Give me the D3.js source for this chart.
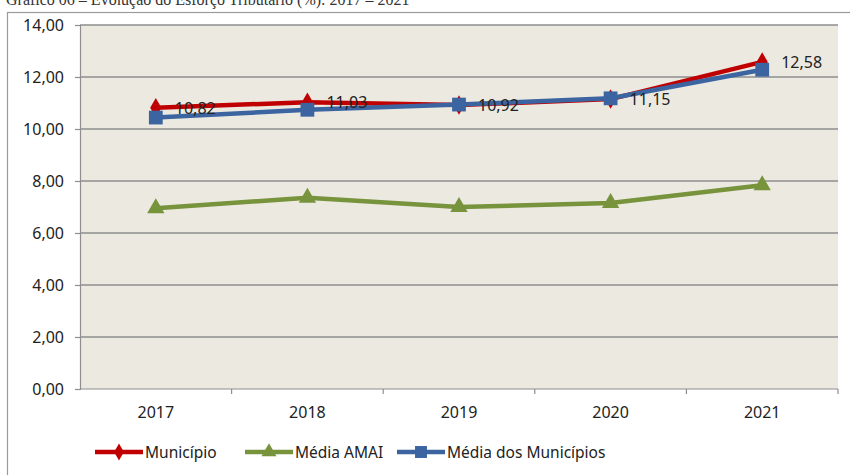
<!DOCTYPE html>
<html>
<head>
<meta charset="utf-8">
<script src="https://cdn.jsdelivr.net/npm/d3@7"></script>
<style>
  body { margin: 0; background: #fff; }
  svg { display: block; font-family: "Noto Sans", sans-serif; }
</style>
</head>
<body>
<div id="chart"></div>
<script>
const years = ["2017", "2018", "2019", "2020", "2021"];
const municipio = [10.82, 11.03, 10.92, 11.15, 12.58];
const mediaAmai = [6.95, 7.36, 7.0, 7.15, 7.84];
const mediaMunicipios = [10.44, 10.74, 10.94, 11.18, 12.28];
const yTicks = [0, 2, 4, 6, 8, 10, 12, 14];

const width = 850, height = 475;
const margin = {top: 25, right: 12, bottom: 86, left: 80};

const svg = d3.select("#chart").append("svg")
  .attr("width", width)
  .attr("height", height);

// title, mostly cut off at the top like in the source
svg.append("text")
  .attr("x", 6).attr("y", 5)
  .style("font-family", "'Liberation Serif', serif")
  .style("font-size", "16px")
  .attr("fill", "#333")
  .text("Gráfico 06 – Evolução do Esforço Tributário (%): 2017 – 2021");

// outer frame
svg.append("rect")
  .attr("x", 7.5).attr("y", 12.5)
  .attr("width", 860).attr("height", 480)
  .attr("fill", "none")
  .attr("stroke", "#9a9a9a")
  .attr("stroke-width", 1.2);

const x = d3.scaleBand()
  .domain(years)
  .range([margin.left, width - margin.right]);

const y = d3.scaleLinear()
  .domain([0, 14])
  .range([height - margin.bottom, margin.top]);

// plot background
svg.append("rect")
  .attr("x", margin.left).attr("y", margin.top)
  .attr("width", width - margin.left - margin.right)
  .attr("height", height - margin.top - margin.bottom)
  .attr("fill", "#ece9e1");

// gridlines
svg.append("g")
  .selectAll("line")
  .data(yTicks.filter(d => d > 0))
  .join("line")
  .attr("x1", margin.left).attr("x2", width - margin.right)
  .attr("y1", d => y(d)).attr("y2", d => y(d))
  .attr("stroke", "#8e8e8e")
  .attr("stroke-width", 1.3);

// y axis
const yAxis = svg.append("g")
  .attr("transform", `translate(${margin.left},0)`)
  .call(d3.axisLeft(y).tickValues(yTicks).tickSize(5).tickPadding(11)
    .tickFormat(d => d3.format(".2f")(d).replace(".", ",")));
yAxis.selectAll("line, path").attr("stroke", "#8e8e8e").attr("stroke-width", 1.2);
yAxis.selectAll("text").style("font-size", "16px").attr("fill", "#222")
  .style("font-family", "'Noto Sans', sans-serif");

// x axis (ticks between categories)
const xAxisY = y(0);
svg.append("line")
  .attr("x1", margin.left).attr("x2", width - margin.right)
  .attr("y1", xAxisY).attr("y2", xAxisY)
  .attr("stroke", "#8e8e8e").attr("stroke-width", 1.2);
svg.append("g")
  .selectAll("line")
  .data(years)
  .join("line")
  .attr("x1", d => x(d) + x.bandwidth()).attr("x2", d => x(d) + x.bandwidth())
  .attr("y1", xAxisY).attr("y2", xAxisY + 5)
  .attr("stroke", "#8e8e8e").attr("stroke-width", 1.2);
svg.append("g")
  .selectAll("text")
  .data(years)
  .join("text")
  .attr("x", d => x(d) + x.bandwidth() / 2)
  .attr("y", xAxisY + 29)
  .attr("text-anchor", "middle")
  .style("font-size", "16px")
  .attr("fill", "#222")
  .text(d => d);

const series = [
  {name: "Município", values: municipio, color: "#c00000", symbol: d3.symbolDiamond, size: 110},
  {name: "Média AMAI", values: mediaAmai, color: "#77933c", symbol: d3.symbolTriangle, size: 130},
  {name: "Média dos Municípios", values: mediaMunicipios, color: "#3b64a0", symbol: d3.symbolSquare, size: 190}
];

const line = d3.line()
  .x((d, i) => x(years[i]) + x.bandwidth() / 2)
  .y(d => y(d));

// draw in order: AMAI, Município, Média dos Municípios on top
[series[1], series[0], series[2]].forEach(s => {
  svg.append("path")
    .datum(s.values)
    .attr("d", line)
    .attr("fill", "none")
    .attr("stroke", s.color)
    .attr("stroke-width", 4.5)
    .attr("stroke-linejoin", "round");
  svg.append("g")
    .selectAll("path")
    .data(s.values)
    .join("path")
    .attr("transform", (d, i) => `translate(${x(years[i]) + x.bandwidth() / 2},${y(d)})`)
    .attr("d", d3.symbol(s.symbol, s.size))
    .attr("fill", s.color);
});

// data labels for Município
svg.append("g")
  .selectAll("text")
  .data(municipio)
  .join("text")
  .attr("x", (d, i) => x(years[i]) + x.bandwidth() / 2 + 19)
  .attr("y", d => y(d) + 6)
  .style("font-size", "16px")
  .attr("fill", "#222")
  .text(d => d3.format(".2f")(d).replace(".", ","));

// legend
const legendX = [95, 245, 397];
const legend = svg.append("g")
  .selectAll("g")
  .data(series)
  .join("g")
  .attr("transform", (d, i) => `translate(${legendX[i]},452)`);
legend.append("line")
  .attr("x1", 0).attr("x2", 48)
  .attr("stroke", d => d.color)
  .attr("stroke-width", 4.5);
legend.append("path")
  .attr("transform", "translate(24,0)")
  .attr("d", d => d3.symbol(d.symbol, d.size * 0.75)())
  .attr("fill", d => d.color);
legend.append("text")
  .attr("x", 50).attr("y", 5.5)
  .style("font-size", "15.5px")
  .attr("fill", "#222")
  .text(d => d.name);
</script>
</body>
</html>
